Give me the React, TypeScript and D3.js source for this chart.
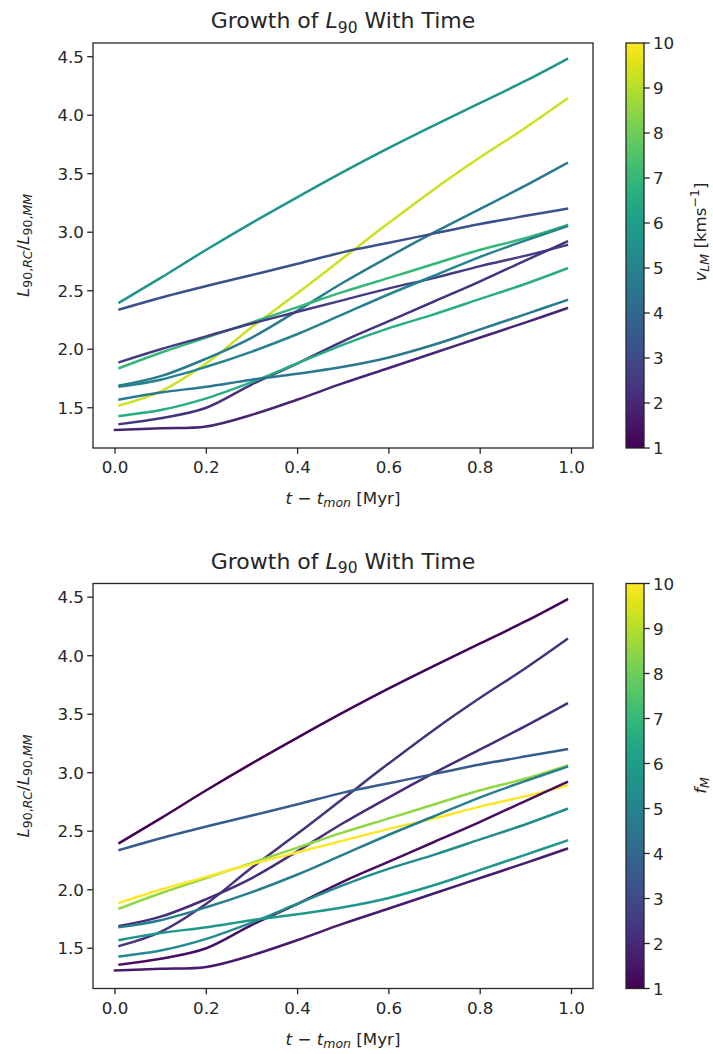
import React from "react";
import * as d3 from "d3";

// time grid (Myr since t_mon)
const T = [0.01, 0.1, 0.2, 0.3, 0.4, 0.5, 0.6, 0.7, 0.8, 0.9, 0.99];

// L90 ratio curves
const curveA = [2.40, 2.61, 2.85, 3.08, 3.30, 3.515, 3.72, 3.915, 4.105, 4.295, 4.48];
const curveB = [1.52, 1.64, 1.88, 2.19, 2.48, 2.78, 3.08, 3.37, 3.64, 3.895, 4.14];
const curveC = [1.69, 1.77, 1.92, 2.10, 2.33, 2.57, 2.79, 3.00, 3.20, 3.40, 3.59];
const curveD = [2.34, 2.44, 2.54, 2.635, 2.73, 2.83, 2.91, 2.99, 3.07, 3.14, 3.20];
const curveE = [1.84, 1.97, 2.10, 2.23, 2.36, 2.49, 2.61, 2.73, 2.85, 2.95, 3.06];
const curveF = [1.89, 2.00, 2.11, 2.22, 2.32, 2.42, 2.52, 2.61, 2.71, 2.80, 2.89];
const curveG = [1.36, 1.41, 1.50, 1.70, 1.88, 2.07, 2.24, 2.41, 2.58, 2.76, 2.92];
const curveH = [1.68, 1.74, 1.85, 1.98, 2.13, 2.30, 2.47, 2.63, 2.79, 2.93, 3.05];
const curveI = [1.43, 1.48, 1.58, 1.72, 1.88, 2.04, 2.18, 2.30, 2.43, 2.56, 2.69];
const curveJ = [1.57, 1.63, 1.68, 1.74, 1.79, 1.85, 1.93, 2.04, 2.17, 2.30, 2.42];
const curveK = [1.31, 1.325, 1.34, 1.44, 1.57, 1.71, 1.84, 1.97, 2.10, 2.23, 2.35];

const curves = [curveA, curveB, curveC, curveD, curveE, curveF, curveG, curveH, curveI, curveJ, curveK];

// colour variables
const vLM = [5.7, 9.3, 4.7, 3.2, 7.0, 2.6, 2.3, 5.0, 6.6, 4.6, 1.9];
const fM = [1.0, 2.3, 2.1, 3.6, 8.5, 10, 1.3, 4.8, 5.3, 5.8, 1.6];

const xTicks = [0.0, 0.2, 0.4, 0.6, 0.8, 1.0];
const yTicks = [1.5, 2.0, 2.5, 3.0, 3.5, 4.0, 4.5];
const cbTicks = [1, 2, 3, 4, 5, 6, 7, 8, 9, 10];

const FONT = "DejaVu Sans, sans-serif";
const TXT = "#262626";
const FS = 16.7;
const SUB = 12.5;

const X0 = 93, X1 = 593, Y0 = 43, Y1 = 448;
const CB0 = 626, CB1 = 644;

const x = d3.scaleLinear().domain([-0.0482, 1.0471]).range([X0, X1]);
const y = d3.scaleLinear().domain([1.156, 4.617]).range([Y1, Y0]);
const cb = d3.scaleLinear().domain([1, 10]).range([Y1, Y0]);
const color = (v: number) => d3.interpolateViridis((v - 1) / 9);

const line = d3
  .line<[number, number]>()
  .x((d) => x(d[0]))
  .y((d) => y(d[1]))
  .curve(d3.curveCatmullRom.alpha(0.5));

function Panel({ vals, id, label }: { vals: number[]; id: string; label: React.ReactNode }) {
  const stops = d3.range(0, 1.0001, 0.05);
  return (
    <g>
      <defs>
        <linearGradient id={id} x1="0" y1="1" x2="0" y2="0">
          {stops.map((s) => (
            <stop key={s} offset={s} stopColor={d3.interpolateViridis(s)} />
          ))}
        </linearGradient>
      </defs>
      {/* title */}
      <text x={(X0 + X1) / 2} y={28} textAnchor="middle" fontSize={22} fill={TXT} fontFamily={FONT}>
        Growth of <tspan fontStyle="italic">L</tspan>
        <tspan fontSize={15.5} dy={4.5}>90</tspan>
        <tspan dy={-4.5}> With Time</tspan>
      </text>
      {/* curves */}
      {curves.map((c, i) => (
        <path
          key={i}
          d={line(T.map((t, j) => [i === 10 && j === 0 ? 0.0 : t, c[j]]) as [number, number][]) || ""}
          fill="none"
          stroke={color(vals[i])}
          strokeWidth={2.5}
          strokeLinecap="square"
        />
      ))}
      {/* frame */}
      <rect x={X0} y={Y0} width={X1 - X0} height={Y1 - Y0} fill="none" stroke={TXT} strokeWidth={1.3} />
      {/* x ticks */}
      {xTicks.map((t) => (
        <g key={t}>
          <line x1={x(t)} x2={x(t)} y1={Y1} y2={Y1 + 5.8} stroke={TXT} strokeWidth={1.3} />
          <text x={x(t)} y={Y1 + 25} textAnchor="middle" fontSize={FS} fill={TXT} fontFamily={FONT}>
            {t.toFixed(1)}
          </text>
        </g>
      ))}
      {/* y ticks */}
      {yTicks.map((t) => (
        <g key={t}>
          <line x1={X0 - 5.8} x2={X0} y1={y(t)} y2={y(t)} stroke={TXT} strokeWidth={1.3} />
          <text x={X0 - 9} y={y(t) + 6} textAnchor="end" fontSize={FS} fill={TXT} fontFamily={FONT}>
            {t.toFixed(1)}
          </text>
        </g>
      ))}
      {/* x label */}
      <text x={(X0 + X1) / 2} y={Y1 + 56} textAnchor="middle" fontSize={FS} fill={TXT} fontFamily={FONT}>
        <tspan fontStyle="italic">t</tspan>
        <tspan> − </tspan>
        <tspan fontStyle="italic">t</tspan>
        <tspan fontStyle="italic" fontSize={SUB} dy={3}>mon</tspan>
        <tspan dy={-3}> [Myr]</tspan>
      </text>
      {/* y label */}
      <text
        transform={`translate(29,${(Y0 + Y1) / 2}) rotate(-90)`}
        textAnchor="middle"
        fontSize={FS}
        fill={TXT}
        fontFamily={FONT}
      >
        <tspan fontStyle="italic">L</tspan>
        <tspan fontSize={SUB} dy={3}>90,</tspan>
        <tspan fontSize={SUB} fontStyle="italic">RC</tspan>
        <tspan dy={-3}>/</tspan>
        <tspan fontStyle="italic">L</tspan>
        <tspan fontSize={SUB} dy={3}>90,</tspan>
        <tspan fontSize={SUB} fontStyle="italic">MM</tspan>
      </text>
      {/* colorbar */}
      <rect x={CB0} y={Y0} width={CB1 - CB0} height={Y1 - Y0} fill={`url(#${id})`} stroke={TXT} strokeWidth={1.3} />
      {cbTicks.map((t) => (
        <g key={t}>
          <line x1={CB1} x2={CB1 + 5.8} y1={cb(t)} y2={cb(t)} stroke={TXT} strokeWidth={1.3} />
          <text x={CB1 + 9} y={cb(t) + 6} fontSize={FS} fill={TXT} fontFamily={FONT}>
            {t}
          </text>
        </g>
      ))}
      {label}
    </g>
  );
}

export default function App() {
  return (
    <svg
      width={713}
      height={1054}
      style={{ display: "block", position: "absolute", left: 0, top: 0 }}
    >
      <rect width={713} height={1054} fill="white" />
      <Panel
        vals={vLM}
        id="gradA"
        label={
          <text
            transform={`translate(706,232) rotate(-90)`}
            textAnchor="middle"
            fontSize={FS}
            fill={TXT}
            fontFamily={FONT}
          >
            <tspan fontStyle="italic">v</tspan>
            <tspan fontStyle="italic" fontSize={SUB} dy={3}>LM</tspan>
            <tspan dy={-3}> [kms</tspan>
            <tspan fontSize={SUB} dy={-7}>−1</tspan>
            <tspan dy={7}>]</tspan>
          </text>
        }
      />
      <g transform="translate(0,540.5)">
        <Panel
          vals={fM}
          id="gradB"
          label={
            <text
              transform={`translate(706,245) rotate(-90)`}
              textAnchor="middle"
              fontSize={FS}
              fill={TXT}
              fontFamily={FONT}
            >
              <tspan fontStyle="italic">f</tspan>
              <tspan fontStyle="italic" fontSize={SUB} dy={3}>M</tspan>
            </text>
          }
        />
      </g>
    </svg>
  );
}
